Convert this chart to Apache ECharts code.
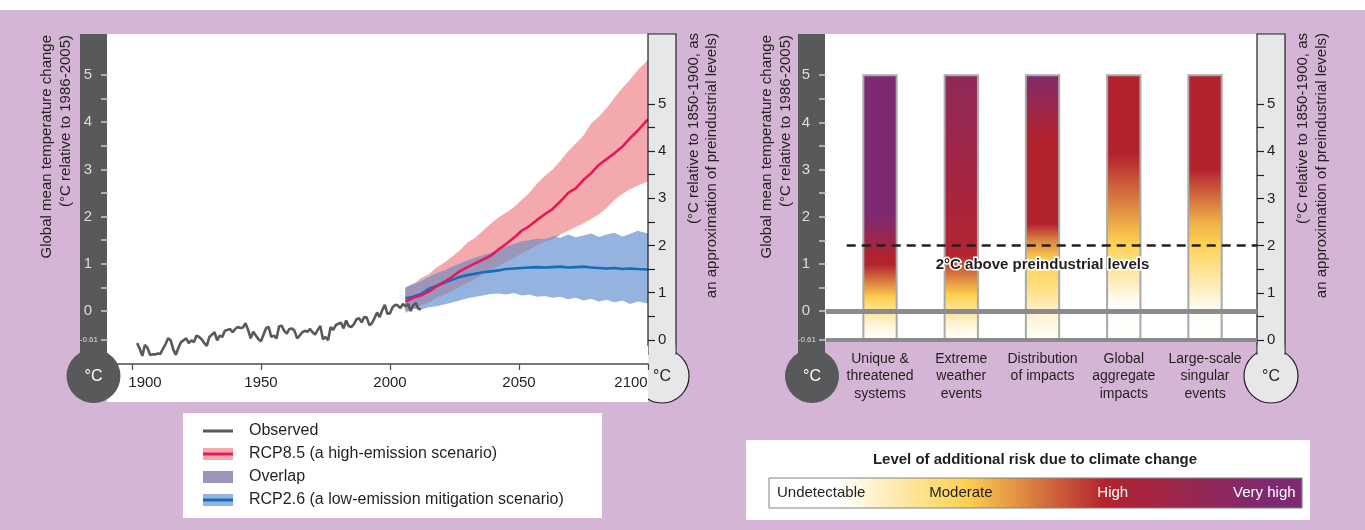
<!DOCTYPE html>
<html>
<head>
<meta charset="utf-8">
<title>Global mean temperature change and climate risk</title>
<script src="https://cdn.jsdelivr.net/npm/echarts@6.0.0/dist/echarts.min.js"></script>
<style>
  html, body { margin: 0; padding: 0; background: #fff; }
  #chart { width: 1365px; height: 530px; }
</style>
</head>
<body>
<div id="chart"></div>
<script>
// ---- left panel data (°C relative to 1986-2005) ----
// observed, one value per year starting at obsStartYear
var obsStartYear = 1902;
var observed = [
  -0.68, -0.80, -0.95, -0.72, -0.78, -0.93, -0.92, -0.92,
  -0.90, -0.91, -0.80, -0.70, -0.58, -0.62, -0.82, -0.93, -0.78, -0.66,
  -0.62, -0.58, -0.68, -0.62, -0.66, -0.52, -0.55, -0.60, -0.68, -0.74,
  -0.55, -0.50, -0.45, -0.62, -0.52, -0.55, -0.42, -0.40, -0.38, -0.45,
  -0.38, -0.34, -0.36, -0.35, -0.26, -0.40, -0.58, -0.44, -0.52, -0.60,
  -0.64, -0.50, -0.36, -0.34, -0.55, -0.52, -0.58, -0.33, -0.31, -0.42,
  -0.48, -0.38, -0.37, -0.42, -0.58, -0.52, -0.45, -0.42, -0.44, -0.38,
  -0.45, -0.50, -0.40, -0.32, -0.60, -0.55, -0.62, -0.34, -0.40, -0.30,
  -0.27, -0.25, -0.37, -0.20, -0.32, -0.34, -0.28, -0.18, -0.15, -0.24,
  -0.13, -0.14, -0.30, -0.26, -0.15, -0.03, -0.13, 0.02, 0.13, -0.06,
  -0.05, 0.08, 0.13, 0.12, 0.06, 0.15, 0.10, 0.15, 0.00, 0.12,
  0.17, 0.05, 0.03
];

var projYears = [2006, 2009, 2012, 2015, 2018, 2021, 2024, 2027, 2030, 2033, 2036,
  2039, 2042, 2045, 2048, 2051, 2054, 2057, 2060, 2063, 2066, 2069, 2072, 2075,
  2078, 2081, 2084, 2087, 2090, 2093, 2096, 2100];

var rcp85Mean = [0.20, 0.28, 0.33, 0.41, 0.52, 0.62, 0.72, 0.84, 0.93, 1.01, 1.09,
  1.17, 1.30, 1.42, 1.55, 1.70, 1.80, 1.93, 2.05, 2.16, 2.32, 2.50, 2.60, 2.78,
  2.92, 3.10, 3.22, 3.34, 3.48, 3.66, 3.82, 4.06];
var rcp85High = [0.50, 0.55, 0.70, 0.78, 0.92, 1.02, 1.15, 1.28, 1.45, 1.55, 1.70,
  1.85, 1.98, 2.08, 2.20, 2.35, 2.50, 2.70, 2.86, 3.00, 3.18, 3.38, 3.55, 3.72,
  3.98, 4.12, 4.30, 4.52, 4.72, 4.90, 5.10, 5.32];
var rcp85Low = [-0.05, 0.05, 0.12, 0.18, 0.28, 0.35, 0.42, 0.52, 0.60, 0.68, 0.78,
  0.88, 0.95, 1.05, 1.12, 1.22, 1.30, 1.40, 1.47, 1.52, 1.62, 1.70, 1.78, 1.86,
  1.95, 2.05, 2.18, 2.35, 2.48, 2.58, 2.66, 2.75];

var rcp26Mean = [0.27, 0.30, 0.36, 0.47, 0.53, 0.60, 0.66, 0.72, 0.76, 0.79, 0.82,
  0.84, 0.86, 0.89, 0.90, 0.91, 0.92, 0.93, 0.92, 0.93, 0.94, 0.92, 0.93, 0.94,
  0.92, 0.91, 0.90, 0.91, 0.89, 0.90, 0.89, 0.88];
var rcp26High = [0.50, 0.58, 0.63, 0.72, 0.80, 0.86, 0.93, 1.00, 1.07, 1.13, 1.18,
  1.23, 1.30, 1.36, 1.42, 1.47, 1.50, 1.53, 1.52, 1.58, 1.55, 1.62, 1.56, 1.60,
  1.64, 1.57, 1.62, 1.66, 1.58, 1.63, 1.70, 1.64];
var rcp26Low = [0.00, 0.05, 0.03, 0.08, 0.10, 0.14, 0.18, 0.22, 0.27, 0.30, 0.33,
  0.36, 0.37, 0.35, 0.38, 0.33, 0.35, 0.30, 0.32, 0.28, 0.30, 0.25, 0.28, 0.22,
  0.26, 0.20, 0.24, 0.18, 0.22, 0.15, 0.20, 0.16];

var yearTicks = [1900, 1950, 2000, 2050, 2100];
var tempLabels = [-0.61, 0, 1, 2, 3, 4, 5];
var tempTicks = [-0.61, 0, 0.5, 1, 1.5, 2, 2.5, 3, 3.5, 4, 4.5, 5];
var preLabels = [0, 1, 2, 3, 4, 5];
var preTicks = [0, 0.5, 1, 1.5, 2, 2.5, 3, 3.5, 4, 4.5, 5];
var preindustrialOffset = 0.61; // 1850-1900 baseline vs 1986-2005
var twoDegrees = 2;

// ---- right panel data ----
var riskCategories = ['Unique &\nthreatened\nsystems', 'Extreme\nweather\nevents',
  'Distribution\nof impacts', 'Global\naggregate\nimpacts', 'Large-scale\nsingular\nevents'];
var barTop = 5;
var barBottom = -0.61;
// temperature (relative to 1986-2005) where each bar reaches a given risk level
var riskTemps = [
  [-0.61, -0.3, 0, 0.3, 1.0, 1.15, 2.05, 5],
  [-0.61, -0.3, 0, 0.35, 1.2, 1.7, 5],
  [-0.61, 0, 0.55, 1.1, 1.55, 1.85, 3.7, 5],
  [-0.61, 0.2, 1.45, 2.0, 3.3, 5],
  [-0.61, 0.0, 1.45, 1.9, 3.0, 5]
];
// 0 undetectable, 1 moderate, 2 high, 3 very high
var riskLevels = [
  [0, 0.2, 0.55, 1, 2, 2, 3, 3],
  [0, 0.2, 0.55, 1, 2, 2.1, 2.65],
  [0, 0.3, 0.75, 1, 1.5, 2, 2, 2.95],
  [0, 0.05, 1, 1.3, 2, 2],
  [0, 0.05, 1, 1.2, 2, 2]
];
var riskLevelNames = ['Undetectable', 'Moderate', 'High', 'Very high'];
var riskColors = ['#ffffff', '#fdd150', '#b3232e', '#7d2a72'];
var riskLegendStops = [0.13, 0.37, 0.63, 0.94];
var riskLabelAt = [0.015, 0.36, 0.645, 0.988];

// ---- helpers ----
var font = 'Liberation Sans, Arial, sans-serif';
var purple = '#d4b5d5';

function hexRgb(h) {
  return [parseInt(h.slice(1, 3), 16), parseInt(h.slice(3, 5), 16), parseInt(h.slice(5, 7), 16)];
}
function riskColor(level) {
  var i = Math.min(Math.floor(level), riskColors.length - 2);
  var f = level - i;
  var a = hexRgb(riskColors[i]), b = hexRgb(riskColors[i + 1]);
  return 'rgb(' + a.map(function (v, k) { return Math.round(v + (b[k] - v) * f); }).join(',') + ')';
}
function barGradient(i) {
  var stops = riskTemps[i].map(function (t, k) {
    return { offset: (barTop - t) / (barTop - barBottom), color: riskColor(riskLevels[i][k]) };
  });
  stops.reverse();
  return new echarts.graphic.LinearGradient(0, 0, 0, 1, stops);
}
function pairs(years, vals) {
  return years.map(function (y, i) { return [y, vals[i]]; });
}
// filled range between lo and hi, drawn as one polygon through the axis scales
function band(name, lo, hi, color) {
  return {
    name: name, type: 'custom', xAxisIndex: 0, yAxisIndex: 0, z: 2, silent: true,
    data: projYears.map(function (y, i) { return [y, lo[i], hi[i]]; }),
    encode: { x: 0, y: [1, 2] },
    renderItem: function (params, api) {
      if (params.dataIndex !== 0) return null;
      var upper = projYears.map(function (y, i) { return api.coord([y, hi[i]]); });
      var lower = projYears.map(function (y, i) { return api.coord([y, lo[i]]); }).reverse();
      return { type: 'polygon', shape: { points: upper.concat(lower) }, style: { fill: color } };
    }
  };
}

var ovLow = projYears.map(function (y, i) { return Math.max(rcp85Low[i], rcp26Low[i]); });
var ovHigh = projYears.map(function (y, i) {
  return Math.max(ovLow[i], Math.min(rcp85High[i], rcp26High[i]));
});
var observedData = observed.map(function (v, i) { return [obsStartYear + i, v]; });

// ---- decoration: thermometers, titles, legends ----
function darkTherm(x, cx) {
  return [
    { type: 'rect', z: 8, shape: { x: x, y: 34, width: 27, height: 322 }, style: { fill: '#58595b' } },
    { type: 'circle', z: 8, shape: { cx: cx, cy: 376, r: 27 }, style: { fill: '#58595b' } },
    { type: 'text', z: 9, x: cx, y: 377, style: { text: '°C', fill: '#fff', fontSize: 16, fontFamily: font, align: 'center', verticalAlign: 'middle' } }
  ];
}
function lightTherm(x, cx) {
  return [
    { type: 'circle', z: 5, shape: { cx: cx, cy: 376, r: 27 }, style: { fill: '#e6e7e8', stroke: '#231f20', lineWidth: 1.2 } },
    { type: 'rect', z: 5, shape: { x: x, y: 34, width: 28, height: 320 }, style: { fill: '#e6e7e8', stroke: '#231f20', lineWidth: 1.2 } },
    { type: 'rect', z: 5, shape: { x: x + 0.7, y: 345, width: 26.6, height: 15 }, style: { fill: '#e6e7e8' } },
    { type: 'text', z: 9, x: cx, y: 377, style: { text: '°C', fill: '#231f20', fontSize: 16, fontFamily: font, align: 'center', verticalAlign: 'middle' } }
  ];
}
function vTitle(x, y, text) {
  return { type: 'text', z: 6, x: x, y: y, rotation: Math.PI / 2,
    style: { text: text, fill: '#231f20', fontSize: 15, fontFamily: font, align: 'right', verticalAlign: 'middle' } };
}
function legendRow(y, text, bandColor, lineColor) {
  var els = [];
  if (bandColor) {
    els.push({ type: 'rect', z: 6, shape: { x: 203, y: y - 6, width: 30, height: 12 }, style: { fill: bandColor } });
  }
  if (lineColor) {
    els.push({ type: 'line', z: 6, shape: { x1: 203, y1: y, x2: 233, y2: y }, style: { stroke: lineColor, lineWidth: 3 } });
  }
  els.push({ type: 'text', z: 6, x: 249, y: y, style: { text: text, fill: '#231f20', fontSize: 16, fontFamily: font, verticalAlign: 'middle' } });
  return els;
}

var riskLegendGradient = [{ offset: 0, color: riskColors[0] }];
riskLegendStops.forEach(function (o, i) { riskLegendGradient.push({ offset: o, color: riskColors[i] }); });
riskLegendGradient.push({ offset: 1, color: riskColors[riskColors.length - 1] });

var riskBarX = 769, riskBarW = 533;
var riskLegendLabels = riskLevelNames.map(function (name, i) {
  var last = i === riskLevelNames.length - 1;
  return { type: 'text', z: 7, x: riskBarX + riskLabelAt[i] * riskBarW, y: 493,
    style: { text: name, fill: i < 2 ? '#231f20' : '#ffffff', fontSize: 15, fontFamily: font,
      align: i === 0 ? 'left' : (last ? 'right' : 'center'), verticalAlign: 'middle' } };
});

var graphics = [
  { type: 'rect', z: 0, shape: { x: 0, y: 0, width: 1365, height: 10 }, style: { fill: '#fff' } },
  { type: 'rect', z: 0, shape: { x: 107, y: 34, width: 541, height: 368 }, style: { fill: '#fff' } },
  // the white panel sits over the left part of the light bulb
  { type: 'rect', z: 6, shape: { x: 630, y: 346, width: 18, height: 56 }, style: { fill: '#fff' } },
  { type: 'rect', z: 0, shape: { x: 825, y: 34, width: 432, height: 307 }, style: { fill: '#fff' } },
  { type: 'rect', z: 0, shape: { x: 183, y: 413, width: 419, height: 105 }, style: { fill: '#fff' } },
  { type: 'rect', z: 0, shape: { x: 746, y: 440, width: 564, height: 80 }, style: { fill: '#fff' } },
  vTitle(47, 35, 'Global mean temperature change'),
  vTitle(66, 35, '(°C relative to 1986-2005)'),
  vTitle(694, 33, '(°C relative to 1850-1900, as'),
  vTitle(712, 33, 'an approximation of preindustrial levels)'),
  vTitle(767, 35, 'Global mean temperature change'),
  vTitle(786, 35, '(°C relative to 1986-2005)'),
  vTitle(1303, 33, '(°C relative to 1850-1900, as'),
  vTitle(1322, 33, 'an approximation of preindustrial levels)'),
  { type: 'text', z: 6, x: 1035, y: 460, style: { text: 'Level of additional risk due to climate change', fill: '#231f20', fontSize: 15, fontWeight: 'bold', fontFamily: font, align: 'center', verticalAlign: 'middle' } },
  { type: 'rect', z: 6, shape: { x: riskBarX, y: 478, width: riskBarW, height: 30 },
    style: { fill: new echarts.graphic.LinearGradient(0, 0, 1, 0, riskLegendGradient), stroke: '#808285', lineWidth: 1 } }
]
  .concat(darkTherm(80, 93.5), lightTherm(648, 662), darkTherm(798, 812), lightTherm(1257, 1271))
  .concat(legendRow(431, 'Observed', null, '#58595b'))
  .concat(legendRow(454, 'RCP8.5 (a high-emission scenario)', '#f4a9ad', '#e5195a'))
  .concat(legendRow(477, 'Overlap', '#9c95ba', null))
  .concat(legendRow(500, 'RCP2.6 (a low-emission mitigation scenario)', '#94b3de', '#0f6fbd'))
  .concat(riskLegendLabels);

// ---- axes ----
function tempAxis(gridIndex, min, max) {
  return {
    gridIndex: gridIndex, type: 'value', position: 'left', min: min, max: max, z: 10,
    axisLine: { show: false, onZero: false },
    splitLine: { show: false },
    axisTick: { show: true, inside: false, length: 7, customValues: tempTicks, lineStyle: { color: '#c9cacc', width: 1.5 } },
    axisLabel: {
      customValues: tempLabels, margin: 10, fontFamily: font,
      formatter: function (v) { return v === barBottom ? '{s|' + v + '}' : '{n|' + v + '}'; },
      rich: {
        n: { fontSize: 15, fontFamily: font, color: '#dcddde', padding: [0, 6, 0, 0] },
        s: { fontSize: 8, fontFamily: font, color: '#dcddde' }
      }
    }
  };
}
function preAxis(gridIndex, min, max) {
  return {
    gridIndex: gridIndex, type: 'value', position: 'right', min: min, max: max, z: 10,
    axisLine: { show: false, onZero: false },
    splitLine: { show: false },
    axisTick: { show: true, inside: false, length: 7, customValues: preTicks, lineStyle: { color: '#231f20', width: 1.2 } },
    axisLabel: { customValues: preLabels, margin: 10, color: '#231f20', fontSize: 15, fontFamily: font }
  };
}

var leftMin = -1.123, leftMax = 5.869;
var rightMin = barBottom, rightMax = 5.873;
var barXMin = -0.665, barXMax = 4.64;
var barWidth = 0.41;
var dashStart = -0.41;
var twoDegreeLine = twoDegrees - preindustrialOffset;
var yearLabelStyle = { fontSize: 15, fontFamily: font, color: '#231f20' };

var option = {
  backgroundColor: purple,
  animation: false,
  textStyle: { fontFamily: font },
  graphic: { elements: graphics },
  grid: [
    { left: 108, right: 717, top: 34, bottom: 166 },
    { left: 826, right: 108, top: 34, bottom: 190 }
  ],
  xAxis: [
    {
      gridIndex: 0, type: 'value', min: 1890.7, max: 2100, z: 7,
      splitLine: { show: false },
      axisLine: { show: true, onZero: false, lineStyle: { color: '#4d4d4f', width: 1.5 } },
      axisTick: { show: true, length: 6, customValues: yearTicks, lineStyle: { color: '#4d4d4f', width: 1.2 } },
      axisLabel: {
        customValues: yearTicks, margin: 11, color: '#231f20', fontSize: 15, fontFamily: font,
        // first label nudged clear of the bulb, last one kept inside the panel
        formatter: function (v) {
          if (v === yearTicks[0]) return '{first|' + v + '}';
          if (v === yearTicks[yearTicks.length - 1]) return '{last|' + v + '}';
          return String(v);
        },
        rich: {
          first: Object.assign({ padding: [0, 0, 0, 26] }, yearLabelStyle),
          last: Object.assign({ padding: [0, 34, 0, 0] }, yearLabelStyle)
        }
      }
    },
    {
      gridIndex: 1, type: 'value', min: barXMin, max: barXMax, z: 7,
      splitLine: { show: false },
      axisLine: { show: false, onZero: false },
      axisTick: { show: false },
      axisLabel: {
        customValues: riskCategories.map(function (c, i) { return i; }),
        formatter: function (v) { return riskCategories[v]; },
        margin: 10, color: '#231f20', fontSize: 14, lineHeight: 17.5, fontFamily: font
      }
    }
  ],
  yAxis: [
    tempAxis(0, leftMin, leftMax),
    preAxis(0, leftMin + preindustrialOffset, leftMax + preindustrialOffset),
    tempAxis(1, rightMin, rightMax),
    preAxis(1, rightMin + preindustrialOffset, rightMax + preindustrialOffset)
  ],
  series: [
    band('RCP8.5 (a high-emission scenario)', rcp85Low, rcp85High, '#f4a9ad'),
    band('RCP2.6 (a low-emission mitigation scenario)', rcp26Low, rcp26High, '#94b3de'),
    band('Overlap', ovLow, ovHigh, '#9c95ba'),
    { name: 'RCP2.6 mean', type: 'line', data: pairs(projYears, rcp26Mean), symbol: 'none',
      lineStyle: { color: '#0f6fbd', width: 2.6 }, z: 3 },
    { name: 'RCP8.5 mean', type: 'line', data: pairs(projYears, rcp85Mean), symbol: 'none',
      lineStyle: { color: '#e5195a', width: 2.6 }, z: 3 },
    { name: 'Observed', type: 'line', data: observedData, symbol: 'none',
      lineStyle: { color: '#58595b', width: 2.6 }, z: 4 },
    {
      name: 'Risk', type: 'custom', xAxisIndex: 1, yAxisIndex: 2, z: 2,
      data: riskCategories.map(function (c, i) { return [i, barTop, barBottom]; }),
      renderItem: function (params, api) {
        var i = api.value(0);
        var p0 = api.coord([i, api.value(1)]);
        var p1 = api.coord([i, api.value(2)]);
        var w = api.size([barWidth, 0])[0];
        return {
          type: 'rect',
          shape: { x: p0[0] - w / 2, y: p0[1], width: w, height: p1[1] - p0[1] },
          style: { fill: barGradient(i), stroke: '#a7a9ac', lineWidth: 2 }
        };
      }
    },
    {
      name: 'Reference', type: 'line', xAxisIndex: 1, yAxisIndex: 2, data: [], z: 3, silent: true,
      markLine: {
        symbol: ['none', 'none'], silent: true, animation: false, label: { show: false },
        data: [
          { yAxis: 0, lineStyle: { color: '#8a8b8e', width: 5, type: 'solid' } },
          { yAxis: barBottom, lineStyle: { color: '#8a8b8e', width: 4, type: 'solid' } },
          [
            { coord: [dashStart, twoDegreeLine], lineStyle: { color: '#231f20', width: 2.5, type: [9, 6] } },
            { coord: [barXMax, twoDegreeLine] }
          ]
        ]
      },
      markPoint: {
        symbol: 'circle', symbolSize: 0, silent: true, animation: false,
        data: [{ coord: [2, twoDegreeLine] }],
        label: {
          show: true, offset: [0, 19], formatter: '2°C above preindustrial levels',
          fontSize: 15, fontWeight: 'bold', color: '#231f20', fontFamily: font,
          textBorderColor: '#ffffff', textBorderWidth: 3
        }
      }
    }
  ]
};

var chart = echarts.init(document.getElementById('chart'));
chart.setOption(option);
</script>
</body>
</html>
